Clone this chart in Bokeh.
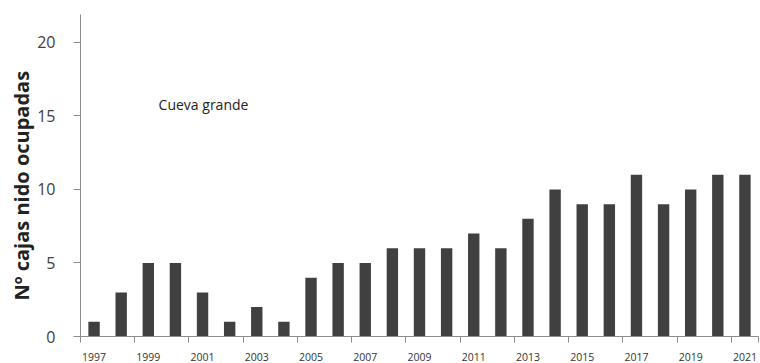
from bokeh.plotting import figure
from bokeh.models import ColumnDataSource, FixedTicker, Label, Range1d, Title
from bokeh.embed import file_html
from bokeh.resources import INLINE

years = list(range(1997, 2022))
boxes = [1, 3, 5, 5, 3, 1, 2, 1, 4, 5, 5, 6, 6, 6, 7, 6, 8, 10, 9, 9, 11, 9, 10, 11, 11]
label_years = [y for y in years if y % 2 == 1]
boundary_ticks = [y - 0.5 for y in label_years]
y_ticks = [0, 5, 10, 15, 20]

FONT = "Open Sans"
src = ColumnDataSource(dict(x=years, top=boxes))

p = figure(width=760, height=363, output_backend="svg", toolbar_location=None,
           x_range=Range1d(1996.5, 2021.5), y_range=Range1d(0, 21.9),
           min_border_left=80, min_border_right=2, min_border_top=14, min_border_bottom=27)
p.outline_line_color = None
p.grid.grid_line_color = None
p.background_fill_color = "white"

p.vbar(x="x", top="top", width=0.42, source=src, fill_color="#404040", line_color=None)

xa = p.xaxis[0]
xa.ticker = FixedTicker(ticks=label_years, minor_ticks=boundary_ticks + [2021.5])
xa.major_tick_line_color = None
xa.major_tick_out = 0
xa.major_tick_in = 0
xa.minor_tick_out = 6
xa.minor_tick_in = 0
xa.minor_tick_line_color = "#8c8c8c"
xa.axis_line_color = "#8c8c8c"
xa.major_label_text_font = FONT
xa.major_label_text_font_size = "10.5px"
xa.major_label_text_color = "#333333"
xa.major_label_standoff = 10

ya = p.yaxis[0]
ya.ticker = FixedTicker(ticks=y_ticks, minor_ticks=[])
ya.major_tick_out = 7
ya.major_tick_in = 0
ya.major_tick_line_color = "#8c8c8c"
ya.axis_line_color = "#8c8c8c"
ya.major_label_text_font = FONT
ya.major_label_text_font_size = "16px"
ya.major_label_text_color = "#404040"
ya.major_label_standoff = 18

ytitle = Title(text="Nº cajas nido ocupadas", align="left", offset=36,
               text_font=FONT, text_font_style="bold", text_font_size="20px",
               text_color="#222222", standoff=0)
p.add_layout(ytitle, "left")

p.add_layout(Label(x=1999.38, y=15.8, text="Cueva grande", text_align="left",
                   text_baseline="middle", text_font=FONT, text_font_size="14px",
                   text_color="#222222"))

open("out.html", "w").write(file_html(p, INLINE))
